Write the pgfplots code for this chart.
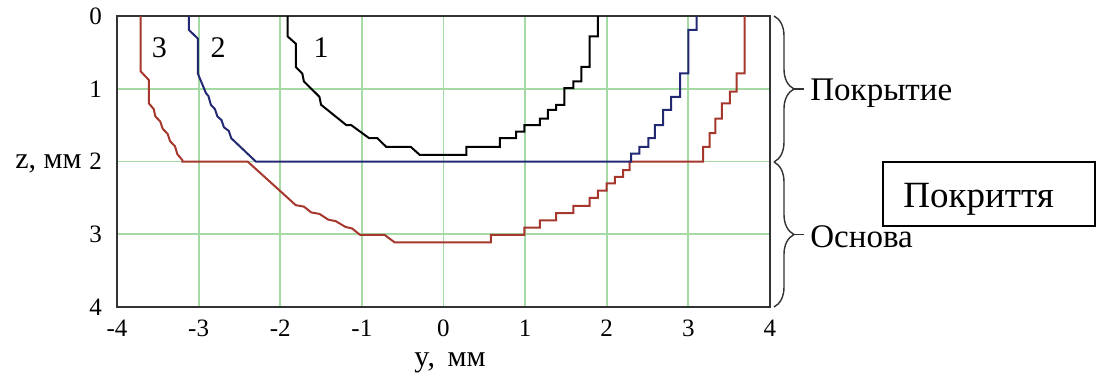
\documentclass[border=0pt]{standalone}
\usepackage{fontspec}
\setmainfont{Liberation Serif}
\usepackage{pgfplots}
\pgfplotsset{compat=1.18}
\usetikzlibrary{decorations.pathreplacing}
\definecolor{gridgreen}{RGB}{165,218,165}
\definecolor{cblue}{RGB}{35,40,115}
\definecolor{cred}{RGB}{165,55,45}
\begin{document}
\begin{tikzpicture}
\useasboundingbox (0,0) rectangle (550pt,188pt);
\begin{axis}[
 at={(58.5pt,34.5pt)}, anchor=south west,
 width=326.5pt, height=145.5pt, scale only axis,
 xmin=-4, xmax=4, ymin=0, ymax=4, y dir=reverse,
 xtick={-4,...,4}, ytick={0,...,4},
 grid=major, major grid style={gridgreen, line width=0.9pt},
 major tick length=0pt,
 axis line style={black!80, line width=1pt},
 tick label style={font=\fontsize{12.5}{14}\selectfont},
 /pgf/number format/assume math mode=true,
 clip=false,
 xticklabel style={yshift=-3pt},
 yticklabel style={xshift=-4pt},
]
\addplot[cred, line width=1pt] coordinates {
(-3.71,0) (-3.71,0.76) (-3.61,0.88) (-3.61,1.20) (-3.55,1.28) (-3.53,1.38) (-3.47,1.45) (-3.44,1.55) (-3.38,1.62) (-3.35,1.72) (-3.29,1.79) (-3.26,1.90) (-3.20,1.98) (-3.20,2.0) (-2.40,2.0) (-1.81,2.60) (-1.71,2.62) (-1.62,2.70) (-1.52,2.72) (-1.41,2.80) (-1.32,2.82) (-1.20,2.90) (-1.12,2.92) (-1.02,3.01) (-0.72,3.01) (-0.60,3.11) (0.58,3.11) (0.58,3.01) (0.99,3.01) (0.99,2.91) (1.18,2.91) (1.18,2.81) (1.38,2.81) (1.38,2.71) (1.59,2.71) (1.59,2.61) (1.79,2.61) (1.79,2.50) (1.89,2.50) (1.89,2.40) (2.00,2.40) (2.00,2.30) (2.10,2.30) (2.10,2.21) (2.20,2.21) (2.20,2.12) (2.28,2.12) (2.28,2.0) (3.18,2.0) (3.18,1.80) (3.26,1.80) (3.26,1.61) (3.33,1.61) (3.33,1.41) (3.41,1.41) (3.41,1.20) (3.51,1.20) (3.51,1.04) (3.59,1.04) (3.59,0.79) (3.69,0.79) (3.69,0)
};
\addplot[cblue, line width=1pt] coordinates {
(-3.12,0) (-3.12,0.19) (-3.01,0.31) (-3.01,0.79) (-2.91,1.06) (-2.88,1.10) (-2.85,1.22) (-2.80,1.28) (-2.77,1.38) (-2.72,1.43) (-2.69,1.53) (-2.63,1.58) (-2.60,1.68) (-2.30,2.0) (2.30,2.0) (2.30,1.89) (2.40,1.89) (2.40,1.80) (2.51,1.80) (2.51,1.68) (2.59,1.68) (2.59,1.50) (2.69,1.50) (2.69,1.29) (2.79,1.29) (2.79,1.11) (2.90,1.11) (2.90,0.79) (3.00,0.79) (3.00,0.19) (3.10,0.19) (3.10,0)
};
\addplot[black, line width=1pt] coordinates {
(-1.91,0) (-1.91,0.28) (-1.81,0.38) (-1.81,0.70) (-1.73,0.79) (-1.71,0.90) (-1.52,1.11) (-1.50,1.22) (-1.19,1.50) (-1.13,1.50) (-0.91,1.68) (-0.81,1.68) (-0.70,1.80) (-0.40,1.80) (-0.29,1.91) (0.28,1.91) (0.28,1.80) (0.69,1.80) (0.69,1.68) (0.89,1.68) (0.89,1.59) (0.99,1.59) (0.99,1.50) (1.18,1.50) (1.18,1.41) (1.28,1.41) (1.28,1.29) (1.38,1.29) (1.38,1.22) (1.48,1.22) (1.48,0.99) (1.59,0.99) (1.59,0.90) (1.69,0.90) (1.69,0.70) (1.79,0.70) (1.79,0.28) (1.89,0.28) (1.89,0)
};
\node[font=\fontsize{15}{17}\selectfont] at (axis cs:-3.48,0.44) {3};
\node[font=\fontsize{15}{17}\selectfont] at (axis cs:-2.76,0.44) {2};
\node[font=\fontsize{15}{17}\selectfont] at (axis cs:-1.50,0.44) {1};
\end{axis}
% axis labels
\node[anchor=base east, inner sep=0pt, font=\fontsize{15}{17}\selectfont] at (41pt,104pt) {z, мм};
\node[anchor=base, inner sep=0pt, font=\fontsize{15}{17}\selectfont] at (225pt,5pt) {y,\, мм};
% braces
\draw[black!80, line width=0.7pt, decorate, decoration={brace, amplitude=10pt}] (387pt,180pt) -- (387pt,107pt);
\draw[black!80, line width=0.7pt] (397pt,143.5pt) -- (402pt,143.5pt);
\draw[black!80, line width=0.7pt, decorate, decoration={brace, amplitude=10pt}] (387pt,107pt) -- (387pt,34.5pt);
\draw[black!80, line width=0.7pt] (397pt,70.75pt) -- (402pt,70.75pt);
\node[anchor=base west, inner sep=0pt, font=\fontsize{16.5}{18}\selectfont] at (405pt,138pt) {Покрытие};
\node[anchor=base west, inner sep=0pt, font=\fontsize{16.5}{18}\selectfont] at (405pt,64.5pt) {Основа};
% overlay box
\draw[black, line width=0.8pt, fill=white] (441.5pt,75pt) rectangle (547.5pt,107pt);
\node[anchor=base west, inner sep=0pt, font=\fontsize{18.5}{20}\selectfont] at (451.5pt,84.5pt) {Покриття};
\end{tikzpicture}
\end{document}
